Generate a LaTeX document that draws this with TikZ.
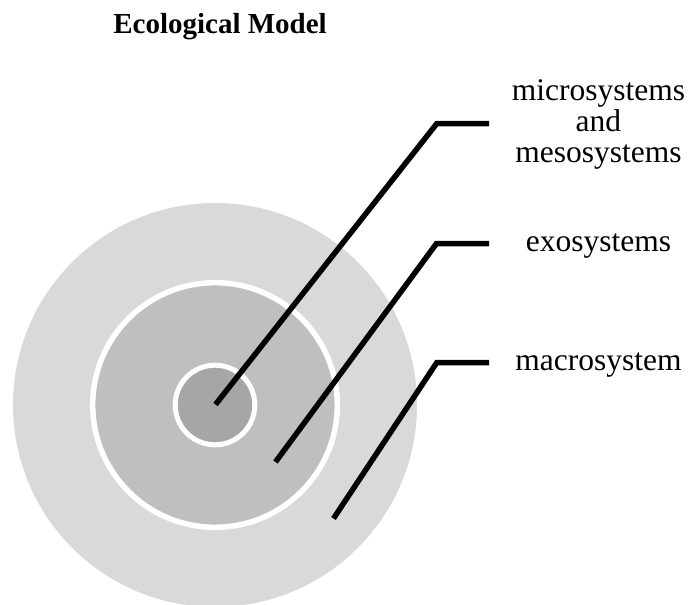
\documentclass[tikz,border=0pt]{standalone}
\usepackage{fontspec}
\setmainfont{Liberation Serif}
\definecolor{ringouter}{HTML}{D9D9D9}
\definecolor{ringmiddle}{HTML}{BFBFBF}
\definecolor{ringinner}{HTML}{A6A6A6}
\begin{document}
\begin{tikzpicture}[x=1pt,y=-1pt,
  disc/.style={circle, inner sep=0pt, outer sep=0pt},
  label/.style={inner sep=0pt, anchor=base, align=center,
    font=\fontsize{31.5}{31}\selectfont},
  leader/.style={line width=5.5pt, black, line join=miter}]
\useasboundingbox (0,0) rectangle (689,605);

% title
\node[inner sep=0pt, anchor=base, font=\bfseries\fontsize{29}{33}\selectfont]
  (title) at (220,33.5) {Ecological Model};

% nested system discs
\node[disc, fill=ringouter, minimum size=404pt] (macro) at (215,405) {};
\node[disc, fill=ringmiddle, draw=white, line width=5.5pt, minimum size=244.6pt] (exo) at (215,405) {};
\node[disc, fill=ringinner, draw=white, line width=5pt, minimum size=79.6pt] (micro) at (215,405) {};

% labels (a multi-line label sits on the baseline of its last line)
\node[label] (tmicro) at (598.4,162) {microsystems\\and\\mesosystems};
\node[label] (texo) at (598.4,251) {exosystems};
\node[label] (tmacro) at (598.4,370) {macrosystem};

% leader line points
\coordinate (pmicro) at (215.5,404.5);
\coordinate (kmicro) at (436.7,123.7);
\coordinate (emicro) at (489,123.7);
\coordinate (pexo) at (275.5,462);
\coordinate (kexo) at (436.5,243.5);
\coordinate (eexo) at (489,243.5);
\coordinate (pmacro) at (333.5,518.5);
\coordinate (kmacro) at (436.7,362.7);
\coordinate (emacro) at (489,362.7);

% leader lines
\draw[leader] (pmicro) -- (kmicro) -- (emicro);
\draw[leader] (pexo) -- (kexo) -- (eexo);
\draw[leader] (pmacro) -- (kmacro) -- (emacro);
\end{tikzpicture}
\end{document}
